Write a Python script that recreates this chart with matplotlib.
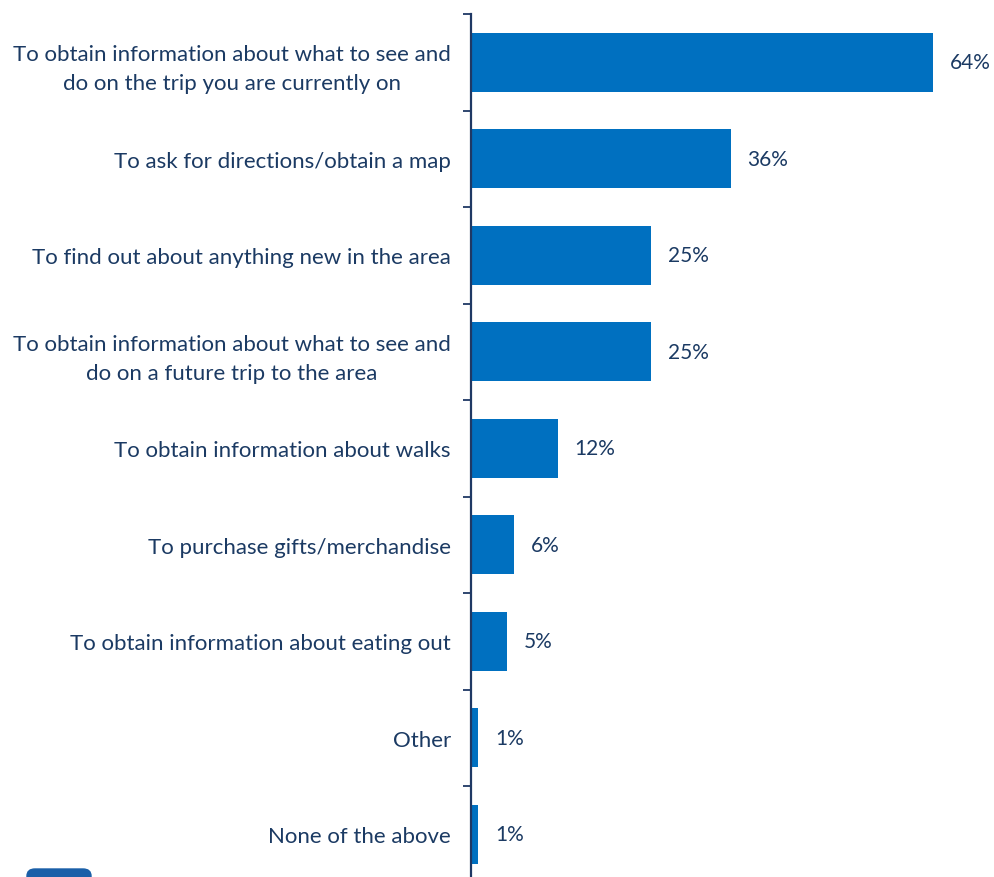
import numpy as np
import matplotlib.pyplot as plt
from matplotlib.patches import FancyBboxPatch

plt.rcParams['font.family'] = ['Lato', 'DejaVu Sans']

labels = [
    "To obtain information about what to see and\ndo on the trip you are currently on",
    "To ask for directions/obtain a map",
    "To find out about anything new in the area",
    "To obtain information about what to see and\ndo on a future trip to the area",
    "To obtain information about walks",
    "To purchase gifts/merchandise",
    "To obtain information about eating out",
    "Other",
    "None of the above",
]
values = [64, 36, 25, 25, 12, 6, 5, 1, 1]

bar_color = "#0070C0"
text_color = "#1B3A63"
axis_color = "#1F3864"

W, H = 995, 878
fig = plt.figure(figsize=(W / 100, H / 100), dpi=100)

# axes placed in pixel terms; bottom runs slightly past the image edge
left_px, top_px, bottom_px = 471, 15, 883.5
px_per_unit = 7.22
xmax = 70
ax = fig.add_axes([left_px / W, (H - bottom_px) / H,
                   xmax * px_per_unit / W, (bottom_px - top_px) / H])

n = len(labels)
y = np.arange(n)
ax.barh(y, values, height=0.615, color=bar_color, zorder=2)
ax.set_xlim(0, xmax)
ax.set_ylim(n - 0.5, -0.5)

for yi, v in zip(y, values):
    ax.annotate(f"{v}%", (v, yi), xytext=(12, 0), textcoords="offset points",
                va="center", ha="left", fontsize=15, color=text_color)

ax.set_yticks(y)
ax.set_yticklabels(labels, fontsize=16, color=text_color, multialignment="center",
                   linespacing=1.55)
ax.set_yticks(np.arange(n + 1) - 0.5, minor=True)
ax.tick_params(axis="y", which="major", length=0, pad=14.5)
ax.tick_params(axis="y", which="minor", length=6, width=1.3, color=axis_color, direction="out")
ax.set_xticks([])

for s in ["top", "right", "bottom"]:
    ax.spines[s].set_visible(False)
ax.spines["left"].set_color(axis_color)
ax.spines["left"].set_linewidth(1.6)

# corner of the logo peeking in at the bottom left
logo = FancyBboxPatch((27 / W, -20 / H), 64 / W, 28 / H,
                      boxstyle="round,pad=0,rounding_size=0.008",
                      transform=fig.transFigure, color="#1A5FA8", clip_on=False)
fig.patches.append(logo)

fig.savefig("out.png", dpi=100)
